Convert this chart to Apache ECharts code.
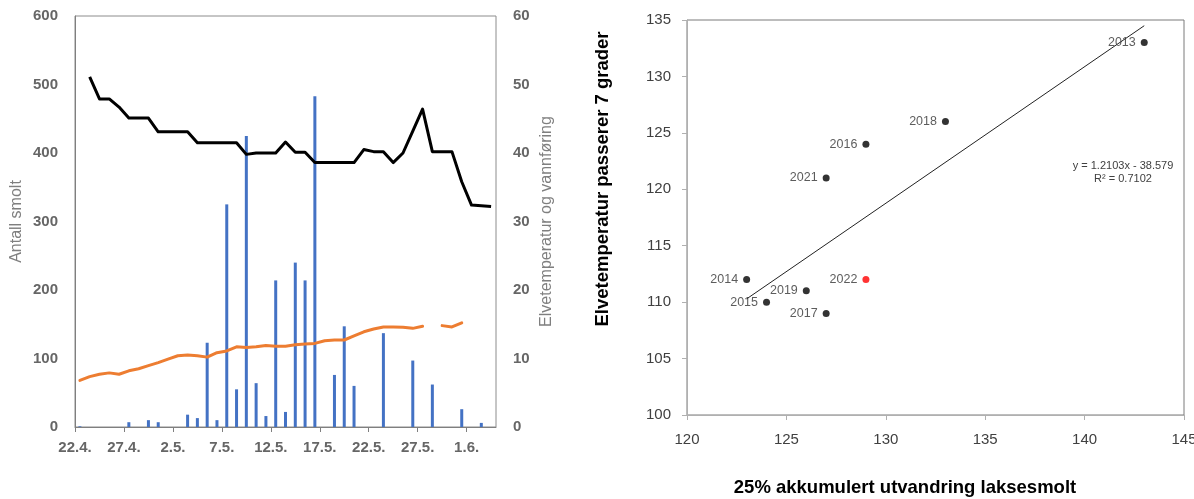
<!DOCTYPE html>
<html><head><meta charset="utf-8">
<script src="https://cdn.jsdelivr.net/npm/echarts@6/dist/echarts.min.js"></script>
<style>html,body{margin:0;padding:0;background:#fff}#c{width:1194px;height:499px}</style>
</head><body><div id="c"></div>
<script>
// ---- Left chart data (daily, 22.4. – 3.6.) ----
const days = ['22.4.','23.4.','24.4.','25.4.','26.4.','27.4.','28.4.','29.4.','30.4.',
  '1.5.','2.5.','3.5.','4.5.','5.5.','6.5.','7.5.','8.5.','9.5.','10.5.','11.5.','12.5.','13.5.','14.5.','15.5.','16.5.','17.5.','18.5.','19.5.','20.5.','21.5.','22.5.','23.5.','24.5.','25.5.','26.5.','27.5.','28.5.','29.5.','30.5.','31.5.',
  '1.6.','2.6.','3.6.'];
const tickLabels = ['22.4.','27.4.','2.5.','7.5.','12.5.','17.5.','22.5.','27.5.','1.6.'];
const smolt = [1,0,0,0,0,7,0,10,7,0,0,18,13,123,10,325,55,425,64,16,214,22,240,214,483,0,76,147,60,0,0,137,0,0,97,0,62,0,0,26,0,6,0];
const vannforing = [null,51.1,47.9,47.9,46.7,45.1,45.1,45.1,43.1,43.1,43.1,43.1,41.5,41.5,41.5,41.5,41.5,39.8,40.0,40.0,40.0,41.6,40.1,40.1,38.6,38.6,38.6,38.6,38.6,40.5,40.2,40.2,38.6,40.0,43.2,46.4,40.2,40.2,40.2,35.8,32.4,32.3,32.2];
const temperatur = [6.8,7.35,7.7,7.9,7.7,8.2,8.5,8.95,9.4,9.9,10.4,10.5,10.4,10.2,10.85,11.1,11.7,11.6,11.7,11.9,11.8,11.8,12.0,12.1,12.2,12.6,12.7,12.7,13.3,13.9,14.3,14.6,14.6,14.55,14.4,14.7,null,14.8,14.6,15.2,null,null,null];

// ---- Right chart data ----
const years = ['2013','2014','2015','2016','2017','2018','2019','2021','2022'];
const utvandring25 = [143,123,124,129,127,133,126,127,129];
const temp7grader = [133,112,110,124,109,126,111,121,112];
const highlightYear = '2022';
const trendSlope = 1.2103;
const trendIntercept = -38.579;
const trendXRange = [123,143];
const trendR2 = 0.7102;

const FONT = 'Liberation Sans, Arial, sans-serif';
const tickIdx = tickLabels.map(l => days.indexOf(l));
const dayPt = (arr) => arr.map((v,i) => [i + 0.5, v == null ? '-' : v]);

const chart = echarts.init(document.getElementById('c'), null, {renderer:'canvas'});
chart.setOption({
  animation: false,
  backgroundColor: '#fff',
  textStyle: {fontFamily: FONT},
  grid: [
    {left: 75, top: 16, width: 421, height: 411, show: true, borderColor: '#8c8c8c', borderWidth: 1, backgroundColor: 'transparent', outerBoundsMode: 'none', containLabel: false},
    {left: 687, top: 20, width: 497, height: 395, show: true, borderColor: '#7a7a7a', borderWidth: 1, backgroundColor: 'transparent', outerBoundsMode: 'none', containLabel: false}
  ],
  xAxis: [
    {type: 'value', gridIndex: 0, min: 0, max: days.length,
     axisLine: {show: true, lineStyle: {color: '#7f7f7f', width: 1}},
     axisTick: {show: true, length: 5, customValues: tickIdx, lineStyle: {color: '#7f7f7f'}},
     axisLabel: {customValues: tickIdx, formatter: v => days[v] || '', color: '#666', fontWeight: 'bold', fontSize: 15, fontFamily: FONT, margin: 13},
     splitLine: {show: false}},
    {type: 'value', gridIndex: 1, min: 120, max: 145, interval: 5,
     axisLine: {show: true, onZero: false, lineStyle: {color: '#b0b0b0'}},
     axisTick: {show: true, length: 5, lineStyle: {color: '#b0b0b0'}},
     axisLabel: {color: '#404040', fontSize: 15, fontFamily: FONT, margin: 17, hideOverlap: false},
     splitLine: {show: false}}
  ],
  yAxis: [
    {type: 'value', gridIndex: 0, position: 'left', min: 0, max: 600, interval: 100,
     axisLine: {show: true, lineStyle: {color: '#7f7f7f'}},
     axisTick: {show: false},
     axisLabel: {color: '#666', fontWeight: 'bold', fontSize: 15, fontFamily: FONT, margin: 17},
     splitLine: {show: false},
     name: 'Antall smolt', nameLocation: 'middle', nameRotate: 90, nameGap: 50,
     nameTextStyle: {color: '#7f7f7f', fontSize: 16, fontFamily: FONT}},
    {type: 'value', gridIndex: 0, position: 'right', min: 0, max: 60, interval: 10,
     axisLine: {show: false}, axisTick: {show: false},
     axisLabel: {color: '#666', fontWeight: 'bold', fontSize: 15, fontFamily: FONT, margin: 17},
     splitLine: {show: false},
     name: 'Elvetemperatur og vannføring', nameLocation: 'middle', nameRotate: 90, nameGap: 43,
     nameTextStyle: {color: '#7f7f7f', fontSize: 16, fontFamily: FONT}},
    {type: 'value', gridIndex: 1, min: 100, max: 135, interval: 5,
     axisLine: {show: true, onZero: false, lineStyle: {color: '#b0b0b0'}},
     axisTick: {show: true, length: 5, lineStyle: {color: '#b0b0b0'}},
     axisLabel: {color: '#404040', fontSize: 15, fontFamily: FONT, margin: 16},
     splitLine: {show: false}}
  ],
  graphic: [
    {type: 'text', x: 603, y: 179, rotation: Math.PI/2,
     style: {text: 'Elvetemperatur passerer 7 grader', fill: '#000', font: 'bold 18.5px ' + FONT, align: 'center', verticalAlign: 'middle'}},
    {type: 'text', x: 905, y: 488,
     style: {text: '25% akkumulert utvandring laksesmolt', fill: '#000', font: 'bold 18.5px ' + FONT, align: 'center', verticalAlign: 'middle'}},
    {type: 'text', x: 1123, y: 166,
     style: {text: 'y = ' + trendSlope + 'x - ' + Math.abs(trendIntercept), fill: '#404040', font: '11px ' + FONT, align: 'center', verticalAlign: 'middle'}},
    {type: 'text', x: 1123, y: 179,
     style: {text: 'R² = ' + trendR2, fill: '#404040', font: '11px ' + FONT, align: 'center', verticalAlign: 'middle'}}
  ],
  series: [
    {name: 'Antall smolt', type: 'bar', xAxisIndex: 0, yAxisIndex: 0, barWidth: 3,
     itemStyle: {color: '#4472C4'}, data: dayPt(smolt), z: 2},
    {name: 'Vannføring', type: 'line', xAxisIndex: 0, yAxisIndex: 1, showSymbol: false, connectNulls: false,
     lineStyle: {color: '#000', width: 3, join: 'round'}, data: dayPt(vannforing), z: 3},
    {name: 'Elvetemperatur', type: 'line', xAxisIndex: 0, yAxisIndex: 1, showSymbol: false, connectNulls: false,
     lineStyle: {color: '#ED7D31', width: 3, cap: 'round', join: 'round'}, data: dayPt(temperatur), z: 3},
    {name: 'Trend', type: 'line', xAxisIndex: 1, yAxisIndex: 2, showSymbol: false, silent: true,
     lineStyle: {color: '#222', width: 1},
     data: trendXRange.map(x => [x, trendSlope * x + trendIntercept]), z: 2},
    {name: 'År', type: 'scatter', xAxisIndex: 1, yAxisIndex: 2, symbolSize: 7,
     data: years.map((y,i) => ({name: y, value: [utvandring25[i], temp7grader[i]],
        itemStyle: {color: y === highlightYear ? '#FF0000' : '#000'}})),
     label: {show: true, position: 'left', distance: 5, formatter: '{b}', color: '#333', fontSize: 12.5, fontFamily: FONT},
     z: 4}
  ]
});
</script></body></html>
